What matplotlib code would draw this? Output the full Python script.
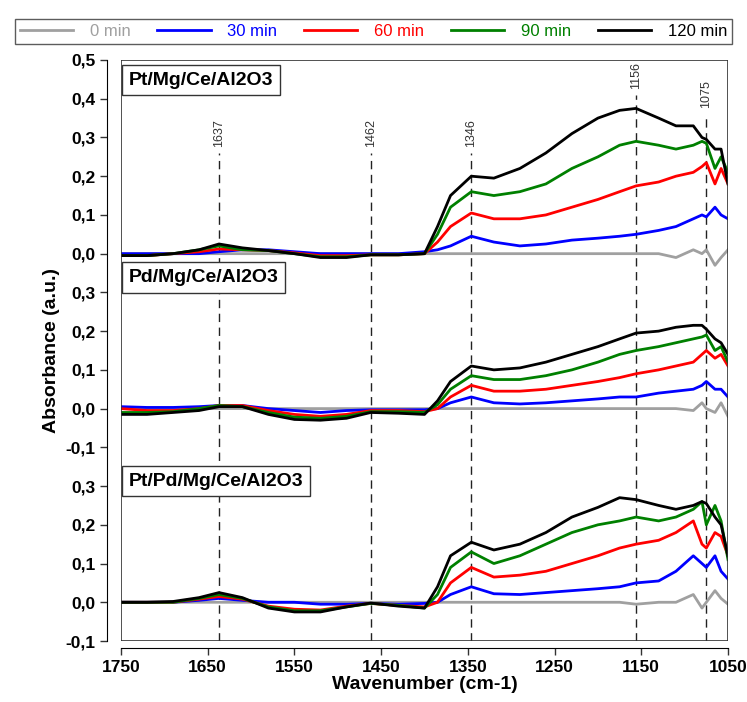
import numpy as np
import matplotlib
matplotlib.use("Agg")
import matplotlib.pyplot as plt
from matplotlib.patches import Rectangle

plt.rcParams['font.family'] = ['Liberation Sans', 'DejaVu Sans']
plt.rcParams['font.weight'] = 'bold'

# wavenumber grid (cm-1)
wn = [1750, 1720, 1690, 1660, 1637, 1610, 1580, 1550, 1520, 1490, 1462, 1430, 1400, 1385, 1370,
      1346, 1320, 1290, 1260, 1230, 1200, 1175, 1156, 1130, 1110, 1090, 1080, 1075, 1065, 1058, 1050]

labels = ["0 min", "30 min", "60 min", "90 min", "120 min"]
colors = ["#a0a0a0", "blue", "red", "green", "black"]

# Pt/Mg/Ce/Al2O3
pt_0 = [0]*24 + [-0.01, 0.01, 0.0, 0.01, -0.03, -0.01, 0.01]
pt_30 = [0, 0, 0, 0, 0.005, 0.01, 0.01, 0.005, 0, 0, 0, 0, 0.005, 0.01, 0.02, 0.045, 0.03, 0.02, 0.025,
         0.035, 0.04, 0.045, 0.05, 0.06, 0.07, 0.09, 0.1, 0.095, 0.12, 0.1, 0.09]
pt_60 = [-0.005, -0.005, 0, 0.005, 0.012, 0.01, 0.008, 0.002, -0.005, -0.005, -0.003, -0.003, 0, 0.03, 0.07,
         0.105, 0.09, 0.09, 0.1, 0.12, 0.14, 0.16, 0.175, 0.185, 0.2, 0.21, 0.225, 0.235, 0.18, 0.22, 0.18]
pt_90 = [-0.005, -0.005, 0, 0.01, 0.02, 0.01, 0.008, 0, -0.008, -0.008, -0.003, -0.003, 0, 0.05, 0.12,
         0.16, 0.15, 0.16, 0.18, 0.22, 0.25, 0.28, 0.29, 0.28, 0.27, 0.28, 0.29, 0.285, 0.22, 0.25, 0.21]
pt_120 = [-0.005, -0.005, 0, 0.01, 0.025, 0.015, 0.008, 0, -0.01, -0.01, -0.003, -0.003, 0, 0.07, 0.15,
          0.2, 0.195, 0.22, 0.26, 0.31, 0.35, 0.37, 0.375, 0.35, 0.33, 0.33, 0.3, 0.295, 0.27, 0.27, 0.18]

# Pd/Mg/Ce/Al2O3
pd_0 = [0]*25 + [-0.005, 0.015, 0.0, -0.01, 0.015, -0.02]
pd_30 = [0.005, 0.003, 0.003, 0.005, 0.008, 0.008, 0, -0.005, -0.01, -0.005, -0.003, -0.003, -0.003, 0.0,
         0.015, 0.03, 0.015, 0.012, 0.015, 0.02, 0.025, 0.03, 0.03, 0.04, 0.045, 0.05, 0.06, 0.07, 0.05, 0.05, 0.03]
pd_60 = [0, -0.005, -0.005, 0, 0.008, 0.008, -0.005, -0.015, -0.02, -0.015, -0.005, -0.005, -0.008, 0, 0.03,
         0.06, 0.045, 0.045, 0.05, 0.06, 0.07, 0.08, 0.09, 0.1, 0.11, 0.12, 0.14, 0.15, 0.13, 0.14, 0.11]
pd_90 = [-0.01, -0.01, -0.008, 0, 0.008, 0.005, -0.01, -0.022, -0.025, -0.02, -0.008, -0.008, -0.01, 0.01, 0.05,
         0.085, 0.075, 0.075, 0.085, 0.1, 0.12, 0.14, 0.15, 0.16, 0.17, 0.18, 0.185, 0.19, 0.15, 0.16, 0.12]
pd_120 = [-0.015, -0.015, -0.01, -0.005, 0.005, 0.005, -0.015, -0.028, -0.03, -0.025, -0.01, -0.012, -0.015, 0.02,
          0.07, 0.11, 0.1, 0.105, 0.12, 0.14, 0.16, 0.18, 0.195, 0.2, 0.21, 0.215, 0.215, 0.205, 0.18, 0.17, 0.14]

# Pt/Pd/Mg/Ce/Al2O3
ptpd_0 = [0]*22 + [-0.005, 0, 0.0, 0.02, -0.015, 0, 0.03, 0.01, -0.005]
ptpd_30 = [0, 0, 0, 0.005, 0.01, 0.005, 0, 0, -0.005, -0.005, -0.003, -0.005, -0.003, 0, 0.02, 0.04, 0.022, 0.02,
           0.025, 0.03, 0.035, 0.04, 0.05, 0.055, 0.08, 0.12, 0.1, 0.09, 0.12, 0.08, 0.06]
ptpd_60 = [0, 0, 0, 0.008, 0.015, 0.008, -0.01, -0.018, -0.02, -0.01, -0.003, -0.008, -0.012, 0, 0.05, 0.09,
           0.065, 0.07, 0.08, 0.1, 0.12, 0.14, 0.15, 0.16, 0.18, 0.21, 0.15, 0.14, 0.18, 0.17, 0.12]
ptpd_90 = [0, 0, 0, 0.01, 0.02, 0.01, -0.012, -0.022, -0.022, -0.012, -0.003, -0.008, -0.015, 0.02, 0.09, 0.13,
           0.1, 0.12, 0.15, 0.18, 0.2, 0.21, 0.22, 0.21, 0.22, 0.24, 0.26, 0.2, 0.25, 0.21, 0.11]
ptpd_120 = [0, 0, 0.002, 0.012, 0.025, 0.012, -0.015, -0.025, -0.025, -0.012, -0.002, -0.01, -0.015, 0.04, 0.12,
            0.155, 0.135, 0.15, 0.18, 0.22, 0.245, 0.27, 0.265, 0.25, 0.24, 0.25, 0.26, 0.255, 0.22, 0.2, 0.12]

panels = [
    ("Pt/Mg/Ce/Al2O3", 0.9, [pt_0, pt_30, pt_60, pt_90, pt_120], [0.0, 0.1, 0.2, 0.3, 0.4, 0.5]),
    ("Pd/Mg/Ce/Al2O3", 0.5, [pd_0, pd_30, pd_60, pd_90, pd_120], [-0.1, 0.0, 0.1, 0.2, 0.3]),
    ("Pt/Pd/Mg/Ce/Al2O3", 0.0, [ptpd_0, ptpd_30, ptpd_60, ptpd_90, ptpd_120], [-0.1, 0.0, 0.1, 0.2, 0.3]),
]

peaks = [1637, 1462, 1346, 1156, 1075]
peak_tops = [0.26, 0.26, 0.26, 0.41, 0.36]  # in top panel units

fig = plt.figure(figsize=(7.47, 7.02), dpi=100)
ax = fig.add_axes([121/747, 1 - 641/702, (728 - 121)/747, (641 - 60)/702])
ax.set_xlim(1750, 1050)
ax.set_ylim(-0.1, 1.4)

for name, off, series, ticks in panels:
    for s, c, lab in zip(series, colors, labels):
        ax.plot(wn, np.array(s) + off, color=c, lw=2, label=lab if off == 0.9 else None)

for p, t in zip(peaks, peak_tops):
    ax.plot([p, p], [-0.1, 0.9 + t], color='#222222', lw=1, ls=(0, (6, 4)), zorder=0)
    ax.text(p, 0.9 + t + 0.015, str(p), rotation=90, ha='center', va='bottom', fontsize=9,
            fontweight='normal', color='#333333')

# panel labels
for name, off, _, _ in panels:
    ytop = {0.9: 1.37, 0.5: 0.86, 0.0: 0.335}[off]
    ax.text(1741, ytop, name, fontsize=14, fontweight='bold', va='top', ha='left',
            bbox=dict(boxstyle='square,pad=0.35', fc='white', ec='#333333', lw=1))

yt, yl = [], []
for name, off, _, ticks in panels:
    for t in ticks:
        yt.append(t + off)
        yl.append(f"{t:.1f}".replace('.', ','))
ax.set_yticks(yt)
ax.set_yticklabels(yl)
ax.set_xticks([1750, 1650, 1550, 1450, 1350, 1250, 1150, 1050])
ax.tick_params(direction='out', length=5, width=1, colors='#333333', labelcolor='black', labelsize=12.5)
ax.spines['left'].set_position(('outward', 10))
ax.spines['bottom'].set_position(('outward', 5))
ax.spines['top'].set_visible(False)
ax.spines['right'].set_visible(False)
ax.add_patch(Rectangle((0, 0), 1, 1, transform=ax.transAxes, fill=False, ec='#333333', lw=1.2, zorder=5))

ax.set_xlabel("Wavenumber (cm-1)", fontsize=14, fontweight='bold', labelpad=1)
ax.set_ylabel("Absorbance (a.u.)", fontsize=14, fontweight='bold', labelpad=4)

leg = fig.legend(loc='upper center', bbox_to_anchor=(0.5, 0.985), ncol=5, frameon=True, fancybox=False,
                 edgecolor='#333333', prop={'size': 12, 'weight': 'normal'}, handlelength=3.2,
                 handletextpad=1.0, columnspacing=1.6, borderpad=0.3)
leg.get_frame().set_linewidth(1)
for txt, c in zip(leg.get_texts(), colors):
    txt.set_color(c)

fig.savefig("out.png", dpi=100)
